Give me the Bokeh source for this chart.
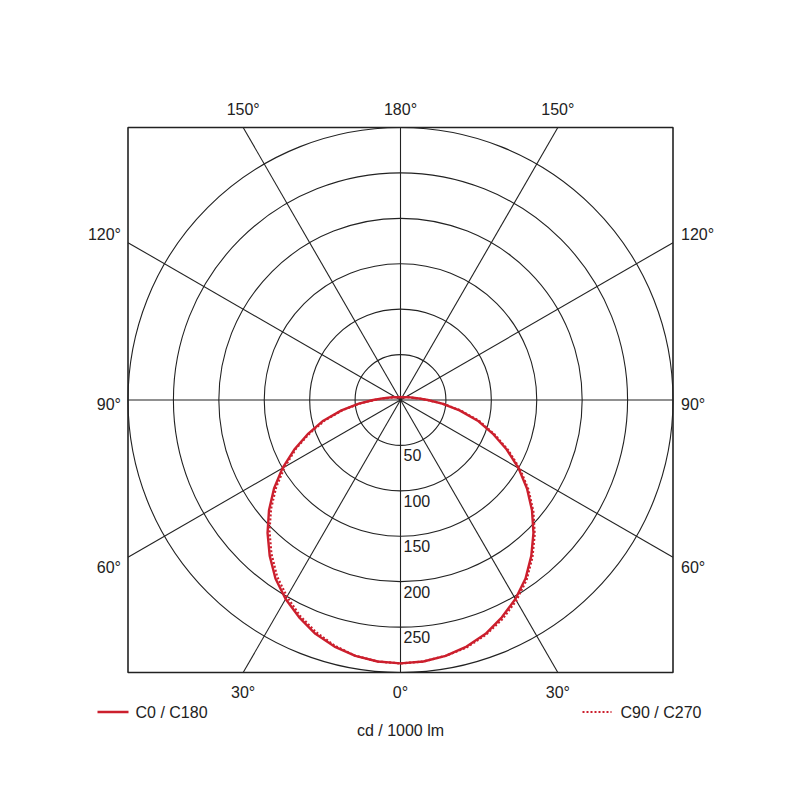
import numpy as np
from bokeh.plotting import figure
from bokeh.models import Range1d
from bokeh.embed import file_html
from bokeh.resources import INLINE
from bokeh.core.properties import value

# ---------------- data ----------------
gamma = [0, 5, 10, 15, 20, 25, 30, 35, 40, 45, 50, 55, 60, 65, 70, 75, 80, 85,
         90, 95, 100, 105, 110, 120, 130, 140, 150, 160, 170, 180]
c0 = [290, 289, 286, 281, 274, 264, 253, 240, 224, 207, 189, 170, 150, 129, 108,
      88, 66, 46, 30, 20, 14, 11, 9, 6, 5, 4, 3.5, 3.3, 3.3, 3.3]
c180 = [290, 289, 286, 281, 274, 264, 253, 240, 224, 207, 189, 170, 150, 129, 108,
        88, 66, 46, 30, 20, 14, 11, 9, 6, 5, 4, 3.5, 3.3, 3.3, 3.3]
c90 = [290, 289, 286, 282, 275, 266, 255, 242, 226, 209, 191, 172, 152, 131, 110,
       90, 68, 47, 30, 20, 14, 11, 9, 6, 5, 4, 3.5, 3.3, 3.3, 3.3]
c270 = [290, 289, 286, 280, 272, 262, 250, 237, 221, 204, 186, 167, 147, 127, 106,
        86, 65, 45, 29, 19, 13, 10, 8, 6, 5, 4, 3.5, 3.3, 3.3, 3.3]

rings = [50, 100, 150, 200, 250, 300]
ring_labels = ["50", "100", "150", "200", "250"]
spoke_angles = [0, 30, 60, 90, 120, 150, 180, 210, 240, 270, 300, 330]
top_labels = ["150°", "180°", "150°"]
bottom_labels = ["30°", "0°", "30°"]
side_labels = ["120°", "90°", "60°"]
side_gammas = [120, 90, 60]
legend_labels = ["C0 / C180", "C90 / C270"]
unit_label = "cd / 1000 lm"

# ---------------- layout ----------------
W = H = 800
CX, CY = 400.0, 399.5          # pixel position of the pole
R_MAX = 300.0
K = 272.5 / R_MAX              # px per unit
FONT = value("Liberation Sans")
FS = "16px"
RED = "#cc1f2d"
INK = "#222222"


def ux(px):
    return (px - CX) / K


def uy(py):
    return (CY - py) / K


p = figure(width=W, height=H, output_backend="svg", toolbar_location=None,
           x_range=Range1d(ux(0), ux(W)), y_range=Range1d(uy(H), uy(0)),
           x_axis_location=None, y_axis_location=None, min_border=0,
           outline_line_color=None, background_fill_color="white",
           border_fill_color="white")
p.grid.visible = False

# rings
p.circle(x=[0] * len(rings), y=[0] * len(rings), radius=rings,
         fill_color=None, line_color=INK, line_width=1.1)

# spokes clipped to square frame
sa = np.radians(spoke_angles)
sx, sy = np.sin(sa), -np.cos(sa)
t = R_MAX / np.maximum(np.abs(sx), np.abs(sy))
p.segment(x0=0, y0=0, x1=sx * t, y1=sy * t, line_color=INK, line_width=1.1)

# frame
p.rect(x=0, y=0, width=2 * R_MAX, height=2 * R_MAX, fill_color=None,
       line_color=INK, line_width=1.6)


def curve(left, right):
    g = np.radians(gamma)
    rl = np.array(left, dtype=float)
    rr = np.array(right, dtype=float)
    xl = -rl * np.sin(g)
    yl = -rl * np.cos(g)
    xr = rr * np.sin(g)
    yr = -rr * np.cos(g)
    x = np.concatenate([xl[::-1], xr[1:]])
    y = np.concatenate([yl[::-1], yr[1:]])
    return x, y


x1, y1 = curve(c180, c0)
p.line(x1, y1, line_color=RED, line_width=2.4, line_join="round")
x2, y2 = curve(c270, c90)
p.line(x2, y2, line_color=RED, line_width=2.2, line_dash="2 2")

# radial value labels
p.text(x=[0] * len(ring_labels), y=[-r for r in rings[:len(ring_labels)]],
       text=ring_labels, x_offset=3, y_offset=10, text_baseline="middle",
       text_align="left", text_font=FONT, text_font_size=FS, text_color=INK)

# top / bottom angle labels
tb = np.tan(np.radians(30)) * R_MAX
p.text(x=[-tb, 0, tb], y=[R_MAX] * 3, text=top_labels, y_offset=-18.5,
       text_align="center", text_baseline="middle", text_font=FONT,
       text_font_size=FS, text_color=INK)
p.text(x=[-tb, 0, tb], y=[-R_MAX] * 3, text=bottom_labels, y_offset=19.5,
       text_align="center", text_baseline="middle", text_font=FONT,
       text_font_size=FS, text_color=INK)

# side labels
gy = [-R_MAX / np.tan(np.radians(g)) if g != 90 else 0.0 for g in side_gammas]
side_off = [-8.5, 4, 10]
p.text(x=[-R_MAX] * 3, y=gy, text=side_labels, x_offset=-7, y_offset=side_off,
       text_align="right", text_baseline="middle", text_font=FONT,
       text_font_size=FS, text_color=INK)
p.text(x=[R_MAX] * 3, y=gy, text=side_labels, x_offset=8, y_offset=side_off,
       text_align="left", text_baseline="middle", text_font=FONT,
       text_font_size=FS, text_color=INK)

# legend
p.line([ux(97), ux(128)], [uy(711.5)] * 2, line_color=RED, line_width=2.4)
p.text(x=[ux(135)], y=[uy(711.5)], text=[legend_labels[0]], text_align="left",
       text_baseline="middle", text_font=FONT, text_font_size=FS, text_color=INK)
p.line([ux(582), ux(611)], [uy(711.5)] * 2, line_color=RED, line_width=2.2,
       line_dash="2 2")
p.text(x=[ux(620)], y=[uy(711.5)], text=[legend_labels[1]], text_align="left",
       text_baseline="middle", text_font=FONT, text_font_size=FS, text_color=INK)
p.text(x=[0], y=[uy(730)], text=[unit_label], text_align="center",
       text_baseline="middle", text_font=FONT, text_font_size=FS, text_color=INK)

open("out.html", "w").write(file_html(p, INLINE))
